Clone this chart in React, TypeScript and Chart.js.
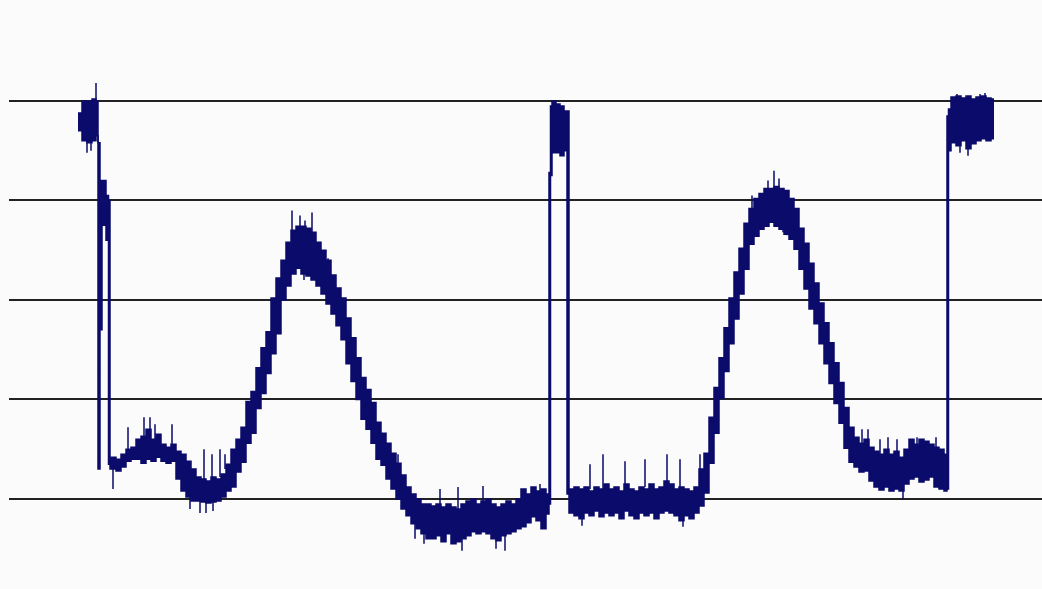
import { useEffect, useRef } from "react";
import { Chart, registerables } from "chart.js";

Chart.register(...registerables);

const NAVY = "#0b0b6b";

// Signal envelope, sampled in bins (x = sample position, values in mV)
const binX = [
  78, 82, 87, 92, 96, 98, 100, 102, 106, 108.5,
  110, 116, 121, 126, 131, 136, 141, 146, 151, 156, 161, 166, 171, 176, 181, 186, 191, 196,
  201, 206, 211, 216, 221, 226, 231, 236, 241, 246, 251, 256, 261, 266, 271, 276, 281, 286,
  291, 296, 301, 306, 311, 316, 321, 326, 331, 336, 341, 346, 351, 356, 361, 366, 371, 376,
  381, 386, 391, 396, 401, 406, 411, 416, 421, 426, 431, 436, 441, 446, 451, 456, 461, 466,
  471, 476, 481, 486, 491, 496, 501, 506, 511, 516, 521, 526, 531, 536, 541, 546,
  549, 550.5, 552, 556, 560, 564, 567,
  569, 574, 579, 584, 589, 594, 599, 604, 609, 614, 619, 624, 629, 634, 639, 644, 649, 654,
  659, 664, 669, 674, 679, 684, 689, 694, 699, 704, 709, 714, 719, 724, 729, 734, 739, 744,
  749, 754, 759, 764, 769, 774, 779, 784, 789, 794, 799, 804, 809, 814, 819, 824, 829, 834,
  839, 844, 849, 854, 859, 864, 869, 874, 879, 884, 889, 894, 899, 904, 909, 914, 919, 924,
  929, 934, 939, 944, 947, 948.5, 951, 956, 961, 966, 971, 976, 981, 986, 991, 994,
];
const binTop = [
  388, 400, 400, 402, 400, 358, 320, 320, 305, 300,
  42, 40, 45, 50, 52, 60, 63, 70, 60, 65, 55, 52, 55, 48, 45, 38, 30, 22,
  20, 18, 22, 20, 25, 35, 50, 60, 72, 98, 108, 132, 152, 168, 202, 222, 240, 258,
  270, 274, 274, 272, 268, 258, 250, 240, 225, 212, 202, 182, 162, 142, 122, 110, 97, 77,
  66, 56, 46, 36, 24, 12, 5, 0, -5, -5, -7, -5, -8, -5, -8, -10, -5, -2,
  0, -5, -2, 0, -5, -8, -5, -2, -5, 0, 10, 5, 12, 8, 10, 5,
  328, 395, 400, 397, 395, 390, 390,
  10, 12, 10, 12, 8, 12, 10, 15, 10, 12, 8, 15, 10, 8, 12, 10, 15, 10,
  12, 18, 15, 10, 12, 10, 8, 12, 30, 46, 82, 112, 142, 172, 202, 228, 252, 277,
  292, 302, 307, 312, 312, 314, 312, 310, 302, 292, 272, 257, 237, 217, 197, 177, 157, 137,
  117, 92, 72, 62, 56, 60, 52, 48, 45, 50, 45, 48, 42, 50, 60, 55, 60, 58,
  55, 52, 50, 45, 385, 392, 404, 405, 403, 405, 402, 404, 405, 403, 402, 402,
];
const binBottom = [
  370, 360, 358, 360, 365, 30, 170, 275, 260, 35,
  30, 28, 32, 38, 40, 40, 36, 40, 38, 42, 38, 36, 38, 20, 8, 2, -2, -2,
  -3, -4, -3, -2, 2, 8, 12, 27, 37, 56, 66, 91, 106, 126, 146, 166, 200, 214,
  226, 232, 226, 224, 220, 214, 206, 196, 186, 174, 160, 136, 118, 100, 80, 70, 56, 40,
  34, 20, 10, 0, -10, -17, -25, -30, -35, -40, -40, -37, -43, -35, -45, -43, -40, -37,
  -33, -35, -33, -35, -40, -42, -37, -35, -33, -30, -28, -24, -18, -22, -30, -15,
  -5, 325, 348, 348, 345, 350, 5,
  -14, -17, -20, -14, -17, -12, -18, -14, -17, -14, -20, -12, -17, -20, -14, -17, -14, -20,
  -14, -12, -14, -17, -22, -17, -20, -14, -7, 6, 36, 66, 101, 128, 156, 181, 206, 231,
  256, 264, 271, 274, 278, 274, 271, 266, 261, 251, 231, 211, 191, 176, 156, 136, 116, 96,
  76, 51, 37, 32, 27, 28, 18, 12, 9, 12, 8, 10, 8, 15, 20, 22, 17, 19,
  22, 12, 10, 8, 10, 350, 358, 355, 360, 352, 357, 360, 362, 360, 362, 362,
];

// Narrow noise spikes (x, upper mV, lower mV)
const spikeX = [
  96, 87, 91, 113, 128, 144, 150, 155, 172, 190, 200, 206, 213, 204, 212, 220, 225,
  292, 300, 305, 312, 304, 328, 347, 398, 415, 424, 440, 458, 462, 483, 496, 505, 540,
  582, 590, 603, 625, 645, 667, 680, 683, 700, 752, 768, 774, 779, 783, 787,
  847, 862, 868, 880, 888, 897, 903, 917, 936, 957, 980, 985, 960, 968,
];
const spikeTop = [
  418, 360, 360, 30, 72, 82, 82, 75, 75, 10, 2, 2, 2, 50, 45, 50, 45,
  290, 285, 280, 288, 235, 242, 182, 45, -22, -28, 10, 12, -35, 13, -35, -35, 15,
  -12, 35, 45, 38, 40, 45, 40, -15, 45, 305, 320, 330, 322, 278, 278,
  90, 70, 70, 60, 62, 60, 12, 62, 62, 407, 407, 408, 355, 352,
];
const spikeBottom = [
  400, 348, 350, 10, 50, 60, 60, 60, 50, -10, -14, -14, -12, 20, 20, 22, 30,
  265, 268, 268, 265, 220, 220, 170, 30, -40, -45, -10, -10, -52, -5, -50, -52, 5,
  -27, 10, 10, 12, 12, 12, 10, -28, 30, 285, 300, 310, 308, 268, 265,
  70, 55, 52, 45, 45, 45, 0, 50, 50, 400, 400, 400, 348, 345,
];

const gridLevels = [0, 100, 200, 300, 400];

export default function App() {
  const ref = useRef<HTMLCanvasElement>(null);

  useEffect(() => {
    if (!ref.current) return;
    const upper = binX.map((x, i) => ({ x, y: binTop[i] }));
    const lower = binX.map((x, i) => ({ x, y: binBottom[i] }));
    const spikes: { x: number; y: number | null }[] = [];
    spikeX.forEach((x, i) => {
      spikes.push({ x, y: spikeTop[i] }, { x, y: spikeBottom[i] }, { x, y: null });
    });

    const chart = new Chart(ref.current, {
      type: "line",
      data: {
        datasets: [
          {
            data: upper,
            stepped: true,
            borderColor: NAVY,
            borderWidth: 1.5,
            pointRadius: 0,
            fill: false,
          },
          {
            data: lower,
            stepped: true,
            borderColor: NAVY,
            borderWidth: 1.5,
            pointRadius: 0,
            fill: "-1",
            backgroundColor: NAVY,
          },
          {
            data: spikes as any,
            borderColor: NAVY,
            borderWidth: 1.5,
            pointRadius: 0,
            spanGaps: false,
            fill: false,
          },
        ],
      },
      options: {
        animation: false,
        responsive: true,
        maintainAspectRatio: false,
        layout: { padding: { left: 9, right: 0, top: 0, bottom: 0 } },
        plugins: {
          legend: { display: false },
          tooltip: { enabled: false },
          title: { display: false },
        },
        scales: {
          x: { type: "linear", display: false, min: 9, max: 1042 },
          y: {
            type: "linear",
            min: -90.5,
            max: 501.5,
            afterBuildTicks: (scale: any) => {
              scale.ticks = gridLevels.map((v) => ({ value: v }));
            },
            grid: { color: "#222222", lineWidth: 2, drawTicks: false },
            border: { display: false },
            ticks: { display: false },
          },
        },
      },
    });
    return () => chart.destroy();
  }, []);

  return (
    <div
      style={{
        position: "fixed",
        left: 0,
        top: 0,
        width: 1042,
        height: 589,
        background: "#fbfbfb",
      }}
    >
      <canvas ref={ref} />
    </div>
  );
}
